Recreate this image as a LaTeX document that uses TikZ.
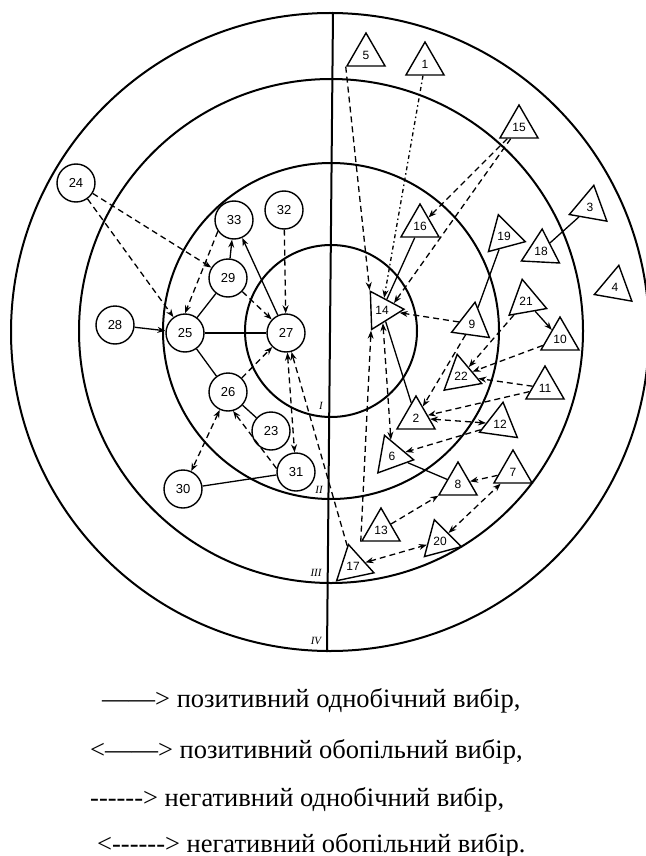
\documentclass[tikz,border=0pt]{standalone}
\usepackage{fontspec}
\setmainfont{Liberation Serif}
\newfontfamily\numfont{Liberation Sans}
\newfontfamily\legfont{Liberation Serif}[Ligatures=TeXOff]
\usetikzlibrary{shapes.geometric,arrows.meta,calc}
\begin{document}
\begin{tikzpicture}[x=1pt,y=-1pt,
  pers/.style={circle,draw,line width=1.4pt,minimum size=38pt,inner sep=0pt,font=\numfont\fontsize{13}{13}\selectfont},
  tri/.style={regular polygon,regular polygon sides=3,draw,line width=1.4pt,minimum size=44pt,inner sep=0pt,font=\numfont\fontsize{12}{12}\selectfont},
  posline/.style={line width=1.3pt},
  negline/.style={line width=1.3pt,dash pattern=on 6pt off 4pt},
  dotline/.style={line width=1.3pt,dash pattern=on 4pt off 3pt on 1.5pt off 3pt},
  onetip/.style={-{Stealth[length=8pt,width=6pt]}},
  twotips/.style={{Stealth[length=8pt,width=6pt]}-{Stealth[length=8pt,width=6pt]}},
  ring/.style={line width=2pt},
  zone/.style={font=\itshape\fontsize{11}{11}\selectfont,inner sep=0pt},
  leg/.style={anchor=base west,inner sep=0pt,font=\legfont\fontsize{26.5}{30}\selectfont}]
\useasboundingbox (0,0) rectangle (645,856);
\fill[white] (0,0) rectangle (645,856);
% rings
\draw[ring] (331,331) circle (86pt);
\draw[ring] (331,331) circle (168pt);
\draw[ring] (331,331) circle (252pt);
\draw[ring] (330,332) circle (319pt);
\draw[ring] (333,12) -- (327,652);
\node[zone] (zI) at (321,406) {I};
\node[zone] (zII) at (319,490) {II};
\node[zone] (zIII) at (316,573) {III};
\node[zone] (zIV) at (316,641) {IV};
% circle persons
\node[pers] (c24) at (76,183) {24};
\node[pers] (c33) at (234,220) {33};
\node[pers] (c32) at (284,210) {32};
\node[pers] (c29) at (228,278) {29};
\node[pers] (c28) at (115,325) {28};
\node[pers] (c25) at (185,333) {25};
\node[pers] (c27) at (286,333) {27};
\node[pers] (c26) at (228,392) {26};
\node[pers] (c23) at (271,431) {23};
\node[pers] (c31) at (296,472) {31};
\node[pers] (c30) at (183,489) {30};
% triangle persons
\node[tri] (t5) at (366,55) {5};
\node[tri] (t1) at (425,64) {1};
\node[tri] (t15) at (519,127) {15};
\node[tri] (t16) at (420,226) {16};
\node[tri,shape border rotate=15] (t19) at (504,236) {19};
\node[tri,shape border rotate=-3] (t18) at (541,251) {18};
\node[tri,shape border rotate=-10] (t3) at (590,207) {3};
\node[tri,shape border rotate=-10] (t4) at (615,287) {4};
\node[tri,shape border rotate=10] (t21) at (526,301) {21};
\node[tri,shape border rotate=-88] (t14) at (382,310) {14};
\node[tri,shape border rotate=-8] (t9) at (472,324) {9};
\node[tri] (t10) at (560,339) {10};
\node[tri,shape border rotate=10] (t22) at (461,376) {22};
\node[tri] (t11) at (545,388) {11};
\node[tri] (t2) at (416,418) {2};
\node[tri,shape border rotate=-8] (t12) at (500,424) {12};
\node[tri,shape border rotate=20] (t6) at (392,456) {6};
\node[tri] (t8) at (458,484) {8};
\node[tri] (t7) at (513,472) {7};
\node[tri] (t13) at (381,530) {13};
\node[tri,shape border rotate=15] (t20) at (440,541) {20};
\node[tri,shape border rotate=12] (t17) at (353,566) {17};
% left group connectors
\draw[negline,onetip] (c24) -- (c29);
\draw[negline,onetip] (c24) -- (c25);
\draw[posline,onetip] (c28) -- (c25);
\draw[negline,onetip] (c33.215) -- (c25.north);
\draw[posline,onetip] (c29) -- (c33);
\draw[posline] (c29) -- (c25);
\draw[negline,onetip] (c29) -- (c27);
\draw[posline,onetip] (c27) -- (c33);
\draw[negline,onetip] (c32) -- (c27);
\draw[posline] (c25) -- (c27);
\draw[posline] (c25) -- (c26);
\draw[negline,onetip] (c26) -- (c27);
\draw[posline] (c26) -- (c23);
\draw[negline,twotips] (c26) -- (c30);
\draw[negline,onetip] (c31.170) -- (c26.-75);
\draw[posline] (c30) -- (c31);
\draw[negline,twotips] (c27) -- (c31);
\draw[negline,onetip] (t17) -- (c27);
% right group connectors
\draw[negline,onetip] (t5.corner 2) -- (t14.corner 2);
\draw[dotline,onetip] (t1) -- (t14);
\draw[negline,onetip] (t15) -- (t16);
\draw[negline,onetip] (t15) -- (t14.30);
\draw[posline] (t16) -- (t14);
\draw[negline,onetip] (t9) -- (t14);
\draw[posline] (t14) -- (t2);
\draw[negline,twotips] (t14) -- (t6);
\draw[negline,onetip] (t13.corner 2) -- (t14.corner 3);
\draw[posline] (t19) -- (t9);
\draw[posline] (t3) -- (t18);
\draw[posline,onetip] (t21) -- (t10);
\draw[negline,onetip] (t21) -- (t22);
\draw[negline,onetip] (t10) -- (t22);
\draw[negline,onetip] (t11) -- (t22);
\draw[negline,onetip] (t11) -- (t2);
\draw[negline,onetip] (t9) -- (t2);
\draw[negline,twotips] (t2) -- (t12);
\draw[negline,onetip] (t12) -- (t6);
\draw[posline] (t6) -- (t8);
\draw[negline,onetip] (t7) -- (t8);
\draw[negline,onetip] (t13) -- (t8);
\draw[negline,twotips] (t20) -- (t7);
\draw[negline,twotips] (t17) -- (t20);
% legend
\node[leg] (l1) at (102,707) {——> позитивний однобічний вибір,};
\node[leg] (l2) at (90,758) {<——> позитивний обопільний вибір,};
\node[leg] (l3) at (90,806) {------> негативний однобічний вибір,};
\node[leg] (l4) at (97,852) {<------> негативний обопільний вибір.};
\end{tikzpicture}
\end{document}
